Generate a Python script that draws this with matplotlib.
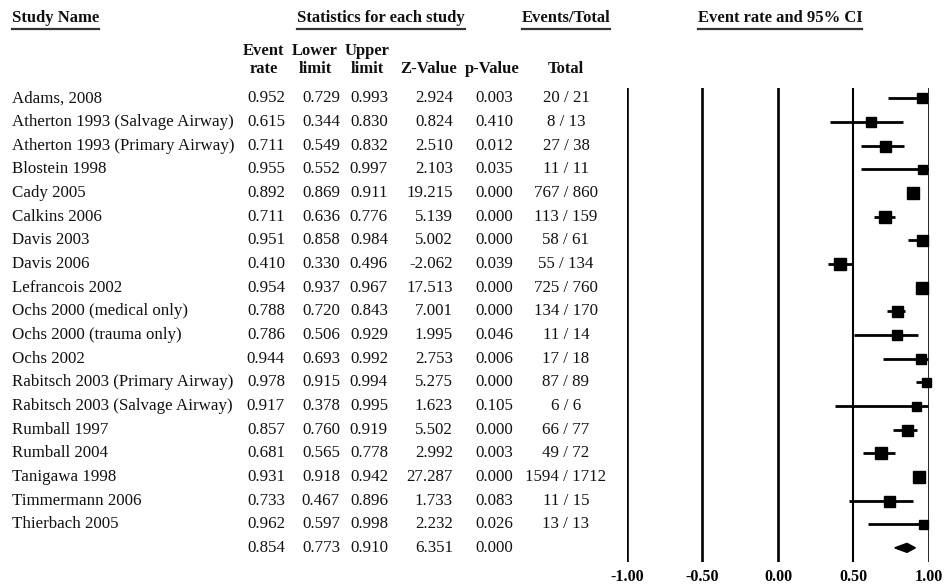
import numpy as np
import matplotlib
matplotlib.use("Agg")
import matplotlib.pyplot as plt
from matplotlib.transforms import blended_transform_factory
from matplotlib.lines import Line2D

plt.rcParams["font.family"] = ["Liberation Serif", "DejaVu Serif"]

W, H = 945, 586

studies = [
    "Adams, 2008", "Atherton 1993 (Salvage Airway)", "Atherton 1993 (Primary Airway)",
    "Blostein 1998", "Cady 2005", "Calkins 2006", "Davis 2003", "Davis 2006",
    "Lefrancois 2002", "Ochs 2000 (medical only)", "Ochs 2000 (trauma only)",
    "Ochs 2002", "Rabitsch 2003 (Primary Airway)", "Rabitsch 2003 (Salvage Airway)",
    "Rumball 1997", "Rumball 2004", "Tanigawa 1998", "Timmermann 2006", "Thierbach 2005",
]
rate = [0.952, 0.615, 0.711, 0.955, 0.892, 0.711, 0.951, 0.410, 0.954, 0.788,
        0.786, 0.944, 0.978, 0.917, 0.857, 0.681, 0.931, 0.733, 0.962]
lower = [0.729, 0.344, 0.549, 0.552, 0.869, 0.636, 0.858, 0.330, 0.937, 0.720,
         0.506, 0.693, 0.915, 0.378, 0.760, 0.565, 0.918, 0.467, 0.597]
upper = [0.993, 0.830, 0.832, 0.997, 0.911, 0.776, 0.984, 0.496, 0.967, 0.843,
         0.929, 0.992, 0.994, 0.995, 0.919, 0.778, 0.942, 0.896, 0.998]
zval = [2.924, 0.824, 2.510, 2.103, 19.215, 5.139, 5.002, -2.062, 17.513, 7.001,
        1.995, 2.753, 5.275, 1.623, 5.502, 2.992, 27.287, 1.733, 2.232]
pval = [0.003, 0.410, 0.012, 0.035, 0.000, 0.000, 0.000, 0.039, 0.000, 0.000,
        0.046, 0.006, 0.000, 0.105, 0.000, 0.003, 0.000, 0.083, 0.026]
events = [20, 8, 27, 11, 767, 113, 58, 55, 725, 134, 11, 17, 87, 6, 66, 49, 1594, 11, 13]
totals = [21, 13, 38, 11, 860, 159, 61, 134, 760, 170, 14, 18, 89, 6, 77, 72, 1712, 15, 13]
weight = [10, 10, 11, 9, 12, 12, 11, 12, 12, 11, 10, 10, 9, 9, 11, 12, 12, 11, 9]

summary = dict(rate=0.854, lower=0.773, upper=0.910, z=6.351, p=0.000)

ticks = [-1.0, -0.5, 0.0, 0.5, 1.0]

fig = plt.figure(figsize=(W / 100, H / 100), dpi=100)
fig.patch.set_facecolor("white")

# forest plot axes (pixel placement)
row0, step = 98.5, 23.65
top_px, bot_px = 88, 562
ax = fig.add_axes([627 / W, 1 - bot_px / H, 302 / W, (bot_px - top_px) / H])
ax.set_xlim(-1.0, 1.0)
ax.set_ylim((bot_px - row0) / step, (top_px - row0) / step)
for s in ax.spines.values():
    s.set_visible(False)
ax.set_yticks([])
ax.set_xticks(ticks)
ax.set_xticklabels([f"{t:.2f}" for t in ticks], fontsize=11.5, fontweight="bold")
ax.tick_params(axis="x", length=0, pad=5)
for t in ticks:
    ax.axvline(t, color="black", lw=1.9 if t != 0.5 else 1.5, zorder=1)

n = len(studies)
for i in range(n):
    ax.plot([lower[i], upper[i]], [i, i], color="black", lw=2.0, solid_capstyle="butt", zorder=2)
    ax.plot(rate[i], i, marker="s", color="black", ms=weight[i] * 0.72, zorder=3, clip_on=False)

# summary diamond
yd = n
dh = 0.19
ax.fill([summary["lower"], summary["rate"], summary["upper"], summary["rate"]],
        [yd, yd - dh, yd, yd + dh], color="black", zorder=3, clip_on=False)

# table text
fs = 12.2
tr = blended_transform_factory(fig.transFigure, ax.transData)
col = "#111111"


def fx(px):
    return px / W


def fy(py):
    return 1 - py / H


num_cols = [285, 340, 388, 453, 513]
for i in range(n):
    ax.text(fx(12), i, studies[i], transform=tr, ha="left", va="center", fontsize=fs, color=col, clip_on=False)
for i, vals in enumerate(zip(rate, lower, upper, zval, pval)):
    for v, xr in zip(vals, num_cols):
        ax.text(fx(xr), i, f"{v:.3f}", transform=tr, ha="right", va="center", fontsize=fs, color=col, clip_on=False)
    ax.text(fx(566), i, f"{events[i]} / {totals[i]}", transform=tr, ha="center", va="center",
            fontsize=fs, color=col, clip_on=False)
for v, xr in zip([summary["rate"], summary["lower"], summary["upper"], summary["z"], summary["p"]], num_cols):
    ax.text(fx(xr), n, f"{v:.3f}", transform=tr, ha="right", va="center", fontsize=fs, color=col, clip_on=False)

# headers
hfs = 12.0
heads = [
    ("Study Name", 12, "left"),
    ("Statistics for each study", 381, "center"),
    ("Events/Total", 566, "center"),
    ("Event rate and 95% CI", 780, "center"),
]
head_txt = []
for s, x, ha in heads:
    head_txt.append(fig.text(fx(x), fy(18), s, ha=ha, va="center", fontsize=hfs, fontweight="bold", color=col))

subs = [
    ("Event\nrate", 264), ("Lower\nlimit", 315), ("Upper\nlimit", 367),
    ("Z-Value", 429), ("p-Value", 492), ("Total", 566),
]
for s, x in subs:
    fig.text(fx(x), fy(77), s, ha="center", va="bottom", fontsize=hfs, fontweight="bold",
             color=col, linespacing=1.2)

# underline headers
fig.canvas.draw()
rend = fig.canvas.get_renderer()
for t in head_txt:
    bb = t.get_window_extent(renderer=rend)
    fig.add_artist(Line2D([bb.x0 / W, bb.x1 / W], [fy(29), fy(29)], transform=fig.transFigure,
                          color="#333333", lw=1.6))

fig.savefig("out.png", dpi=100, facecolor="white")
